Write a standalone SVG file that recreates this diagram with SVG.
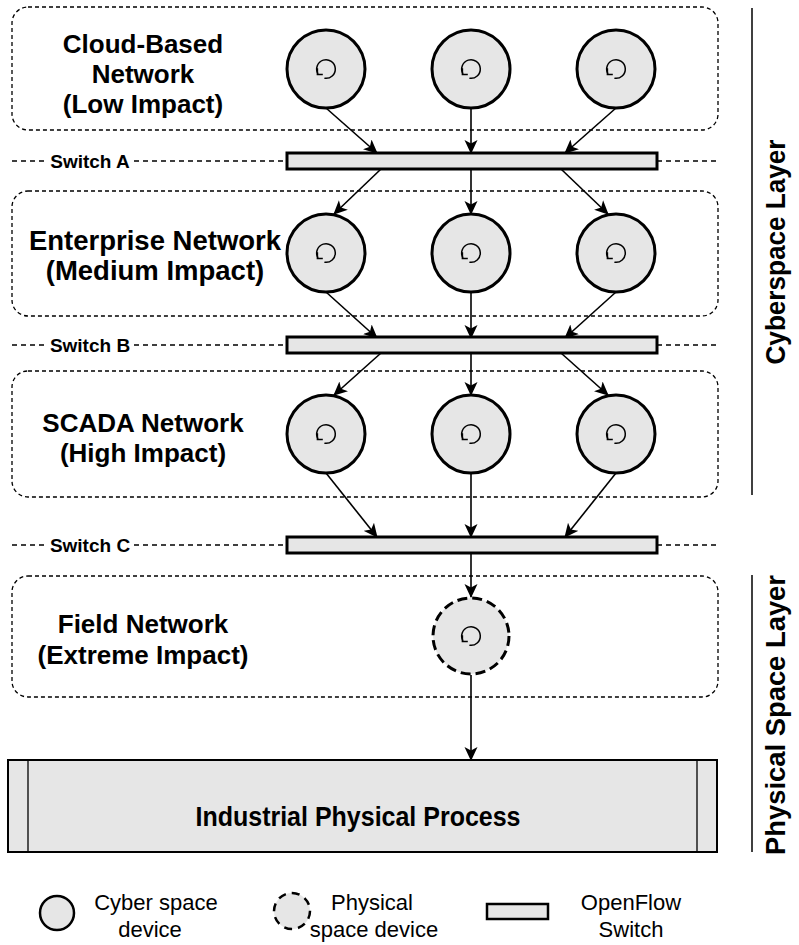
<svg xmlns="http://www.w3.org/2000/svg" width="799" height="945" viewBox="0 0 799 945">
  <style>
    .zone { fill: none; stroke: #000; stroke-width: 1.3; stroke-dasharray: 4 3; }
    .sep { fill: none; stroke: #000; stroke-width: 1.3; stroke-dasharray: 5 4; }
    .dev { fill: #e6e6e6; stroke: #000; stroke-width: 3; }
    .pdev { fill: #e6e6e6; stroke: #000; stroke-width: 3; stroke-dasharray: 10 5; }
    .sw { fill: #e6e6e6; stroke: #000; stroke-width: 3; }
    .icon { fill: none; stroke: #000; stroke-width: 1.5; }
    .link { fill: none; stroke: #000; stroke-width: 1.6; marker-end: url(#arrow); }
    .title { font-family: "Liberation Sans", Arial, sans-serif; font-weight: bold; font-size: 26px; text-anchor: middle; fill: #000; }
    .swlabel { font-family: "Liberation Sans", Arial, sans-serif; font-weight: bold; font-size: 19px; text-anchor: middle; fill: #000; }
    .layer { font-family: "Liberation Sans", Arial, sans-serif; font-weight: bold; font-size: 28px; text-anchor: middle; fill: #000; }
    .legend { font-family: "Liberation Sans", Arial, sans-serif; font-size: 22px; text-anchor: middle; fill: #000; }
    .rule { stroke: #000; stroke-width: 1.5; }
  </style>
  <defs>
    <marker id="arrow" viewBox="0 0 14 14" refX="13" refY="7" markerWidth="14" markerHeight="14" markerUnits="userSpaceOnUse" orient="auto">
      <path d="M0,0.5 L14,7 L0,13.5 L3.5,7 z" fill="#000"/>
    </marker>
    <!-- rotation glyph drawn inside every device -->
    <g id="spin">
      <path class="icon" d="M-8,4.8 A9.3,9.3 0 1 1 -1.6,9.2"/>
      <path class="icon" d="M-8.6,-0.8 L-8.6,5.6 L-3.2,5.6"/>
    </g>
  </defs>

  <!-- network zones -->
  <g id="zones">
    <rect id="zone-cloud" class="zone" x="12" y="7" width="706" height="123" rx="16"/>
    <rect id="zone-enterprise" class="zone" x="12" y="191" width="706" height="125" rx="16"/>
    <rect id="zone-scada" class="zone" x="12" y="371" width="706" height="126" rx="16"/>
    <rect id="zone-field" class="zone" x="12" y="576" width="706" height="121" rx="16"/>
  </g>

  <!-- switch level lines -->
  <g id="levels">
    <path class="sep" d="M12,161 H46 M134,161 H287 M657,161 H716"/>
    <path class="sep" d="M12,345 H46 M134,345 H287 M657,345 H716"/>
    <path class="sep" d="M12,545 H46 M134,545 H287 M657,545 H716"/>
  </g>

  <!-- zone titles -->
  <g id="zone-titles">
    <text class="title" x="143" y="53">Cloud-Based</text>
    <text class="title" x="143" y="83">Network</text>
    <text class="title" x="143" y="113">(Low Impact)</text>
    <text class="title" x="155" y="250" style="font-size:27.5px">Enterprise Network</text>
    <text class="title" x="155" y="280" style="font-size:27.5px">(Medium Impact)</text>
    <text class="title" x="143" y="432">SCADA Network</text>
    <text class="title" x="143" y="462">(High Impact)</text>
    <text class="title" x="143" y="633">Field Network</text>
    <text class="title" x="143" y="664">(Extreme Impact)</text>
  </g>

  <!-- connectors -->
  <g id="connectors">
    <line class="link" x1="326" y1="108" x2="377" y2="153"/>
    <line class="link" x1="471" y1="108" x2="471" y2="153"/>
    <line class="link" x1="616" y1="108" x2="565" y2="153"/>

    <line class="link" x1="381" y1="169" x2="334" y2="214"/>
    <line class="link" x1="471" y1="169" x2="471" y2="214"/>
    <line class="link" x1="561" y1="169" x2="608" y2="214"/>

    <line class="link" x1="326" y1="292" x2="377" y2="338"/>
    <line class="link" x1="471" y1="292" x2="471" y2="338"/>
    <line class="link" x1="616" y1="292" x2="565" y2="338"/>

    <line class="link" x1="381" y1="353" x2="334" y2="395"/>
    <line class="link" x1="471" y1="353" x2="471" y2="395"/>
    <line class="link" x1="561" y1="353" x2="608" y2="395"/>

    <line class="link" x1="326" y1="473" x2="377" y2="537"/>
    <line class="link" x1="471" y1="473" x2="471" y2="537"/>
    <line class="link" x1="616" y1="473" x2="565" y2="537"/>

    <line class="link" x1="471" y1="553" x2="471" y2="597"/>
    <line class="link" x1="471" y1="675" x2="471" y2="760"/>
  </g>

  <!-- cloud devices -->
  <g id="cloud-1"><circle class="dev" cx="326" cy="69" r="39"/><use href="#spin" x="326" y="69"/></g>
  <g id="cloud-2"><circle class="dev" cx="471" cy="69" r="39"/><use href="#spin" x="471" y="69"/></g>
  <g id="cloud-3"><circle class="dev" cx="616" cy="69" r="39"/><use href="#spin" x="616" y="69"/></g>

  <!-- enterprise devices -->
  <g id="ent-1"><circle class="dev" cx="326" cy="253" r="39"/><use href="#spin" x="326" y="253"/></g>
  <g id="ent-2"><circle class="dev" cx="471" cy="253" r="39"/><use href="#spin" x="471" y="253"/></g>
  <g id="ent-3"><circle class="dev" cx="616" cy="253" r="39"/><use href="#spin" x="616" y="253"/></g>

  <!-- SCADA devices -->
  <g id="scada-1"><circle class="dev" cx="326" cy="434" r="39"/><use href="#spin" x="326" y="434"/></g>
  <g id="scada-2"><circle class="dev" cx="471" cy="434" r="39"/><use href="#spin" x="471" y="434"/></g>
  <g id="scada-3"><circle class="dev" cx="616" cy="434" r="39"/><use href="#spin" x="616" y="434"/></g>

  <!-- field device -->
  <g id="field-1"><circle class="pdev" cx="471" cy="636" r="38"/><use href="#spin" x="471" y="636"/></g>

  <!-- OpenFlow switches -->
  <g id="switch-a">
    <rect class="sw" x="287" y="153" width="370" height="16"/>
    <text class="swlabel" x="90" y="168">Switch A</text>
  </g>
  <g id="switch-b">
    <rect class="sw" x="287" y="337" width="370" height="16"/>
    <text class="swlabel" x="90" y="352">Switch B</text>
  </g>
  <g id="switch-c">
    <rect class="sw" x="287" y="537" width="370" height="16"/>
    <text class="swlabel" x="90" y="552">Switch C</text>
  </g>

  <!-- physical process -->
  <g id="process">
    <rect x="8" y="760" width="709" height="92" fill="#e6e6e6" stroke="#000" stroke-width="2"/>
    <line x1="28" y1="760" x2="28" y2="852" stroke="#000" stroke-width="1.3"/>
    <line x1="697" y1="760" x2="697" y2="852" stroke="#000" stroke-width="1.3"/>
    <text class="layer" x="358" y="826" textLength="325" lengthAdjust="spacingAndGlyphs">Industrial Physical Process</text>
  </g>

  <!-- layer markers -->
  <g id="layer-cyber">
    <line class="rule" x1="752" y1="8" x2="752" y2="495"/>
    <text class="layer" transform="translate(785,252) rotate(-90)" textLength="225" lengthAdjust="spacingAndGlyphs">Cyberspace Layer</text>
  </g>
  <g id="layer-physical">
    <line class="rule" x1="752" y1="575" x2="752" y2="852"/>
    <text class="layer" transform="translate(785,715) rotate(-90)" textLength="280" lengthAdjust="spacingAndGlyphs">Physical Space Layer</text>
  </g>

  <!-- legend -->
  <g id="legend-cyber">
    <circle cx="57" cy="913" r="17" fill="#e6e6e6" stroke="#000" stroke-width="2.5"/>
    <text class="legend" x="156" y="910">Cyber space</text>
    <text class="legend" x="150" y="937">device</text>
  </g>
  <g id="legend-physical">
    <circle cx="292" cy="911" r="18" fill="#e6e6e6" stroke="#000" stroke-width="2.5" stroke-dasharray="8 6"/>
    <text class="legend" x="372" y="910">Physical</text>
    <text class="legend" x="374" y="937">space device</text>
  </g>
  <g id="legend-switch">
    <rect x="487" y="904" width="61" height="15" fill="#e6e6e6" stroke="#000" stroke-width="2.5"/>
    <text class="legend" x="631" y="910">OpenFlow</text>
    <text class="legend" x="631" y="937">Switch</text>
  </g>
</svg>
